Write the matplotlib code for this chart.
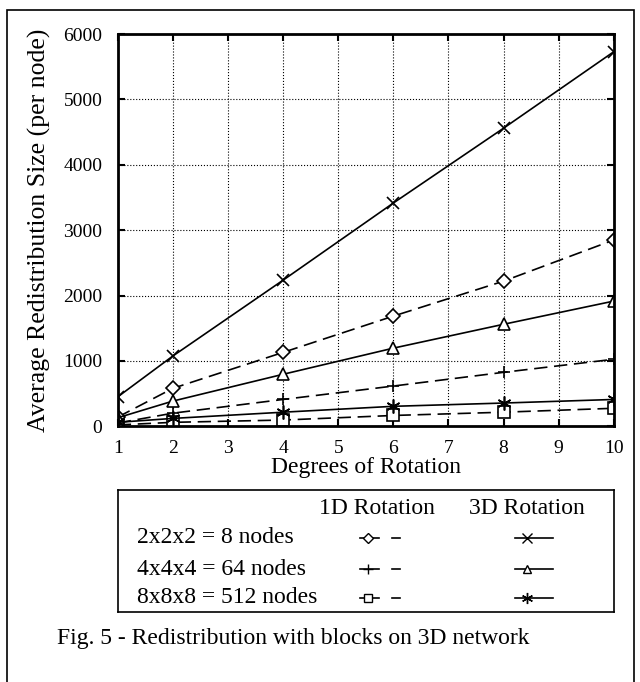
import matplotlib
matplotlib.use("Agg")
import matplotlib.pyplot as plt
from matplotlib.lines import Line2D
from matplotlib.patches import Rectangle

plt.rcParams['font.family'] = ['Liberation Serif', 'DejaVu Serif']

degrees = [1, 2, 4, 6, 8, 10]

# 1D rotation (dashed)
d1_8 = [140, 580, 1130, 1685, 2220, 2850]
d1_64 = [50, 200, 410, 615, 825, 1025]
d1_512 = [20, 60, 95, 165, 215, 275]
# 3D rotation (solid)
d3_8 = [450, 1075, 2235, 3415, 4560, 5730]
d3_64 = [130, 385, 795, 1195, 1560, 1915]
d3_512 = [60, 120, 215, 305, 355, 410]

row_labels = ["2x2x2 = 8 nodes", "4x4x4 = 64 nodes", "8x8x8 = 512 nodes"]
col_labels = ["1D Rotation", "3D Rotation"]
caption = "Fig. 5 - Redistribution with blocks on 3D network"

asterisk = (6, 2, 0)
styles_1d = [dict(marker='D', ms=7, mfc='white'), dict(marker='+', ms=9),
             dict(marker='s', ms=8.5, mfc='white')]
styles_3d = [dict(marker='x', ms=9), dict(marker='^', ms=8, mfc='white'),
             dict(marker=asterisk, ms=10)]
dash = (0, (8, 4))

fig = plt.figure(figsize=(6.4, 6.82), dpi=100)
ax = fig.add_axes([0.184, 0.375, 0.775, 0.575])

for ys, st in zip([d1_8, d1_64, d1_512], styles_1d):
    ax.plot(degrees, ys, color='black', lw=1.2, ls=dash, mew=1.2, **st)
for ys, st in zip([d3_8, d3_64, d3_512], styles_3d):
    ax.plot(degrees, ys, color='black', lw=1.2, ls='-', mew=1.2, **st)

ax.set_xlim(1, 10)
ax.set_ylim(0, 6000)
ax.set_xticks(range(1, 11))
ax.set_yticks(range(0, 6001, 1000))
ax.grid(True, ls=':', color='black', lw=0.8)
ax.tick_params(direction='in', labelsize=14, length=5, width=1.5, top=True, right=True)
ax.tick_params(axis='y', pad=11)
ax.tick_params(axis='x', pad=10)
for s in ax.spines.values():
    s.set_linewidth(2)
ax.set_xlabel("Degrees of Rotation", fontsize=17, labelpad=0)
ax.set_ylabel("Average Redistribution Size (per node)", fontsize=18.5)
ax.yaxis.set_label_coords(-0.135, 0.5)

# table style legend
lax = fig.add_axes([0.184, 0.1026, 0.775, 0.179])
lax.set_xlim(0, 1)
lax.set_ylim(0, 1)
lax.set_xticks([])
lax.set_yticks([])
for s in lax.spines.values():
    s.set_linewidth(1.2)
lax.text(0.522, 0.85, col_labels[0], ha='center', va='center', fontsize=17)
lax.text(0.825, 0.85, col_labels[1], ha='center', va='center', fontsize=17)
rows_y = [0.607, 0.352, 0.115]
for i, lab in enumerate(row_labels):
    y = rows_y[i]
    lax.text(0.038, y, lab, ha='left', va='center', fontsize=17)
    lax.add_line(Line2D([0.488, 0.526], [y, y], color='black', lw=1.2))
    lax.add_line(Line2D([0.552, 0.569], [y, y], color='black', lw=1.2))
    st = dict(styles_1d[i])
    st['ms'] = st['ms'] * 0.75
    lax.add_line(Line2D([0.504], [y], color='black', ls='none', mew=1, **st))
    lax.add_line(Line2D([0.800, 0.877], [y, y], color='black', lw=1.2))
    st = dict(styles_3d[i])
    st['ms'] = st['ms'] * 0.8
    lax.add_line(Line2D([0.825], [y], color='black', ls='none', mew=1, **st))

fig.text(0.089, 0.0645, caption, ha='left', va='center', fontsize=17)

fig.add_artist(Rectangle((0.011, -0.01), 0.98, 0.995, transform=fig.transFigure,
                         fill=False, lw=1.2, color='black'))

fig.savefig("out.png", dpi=100)
